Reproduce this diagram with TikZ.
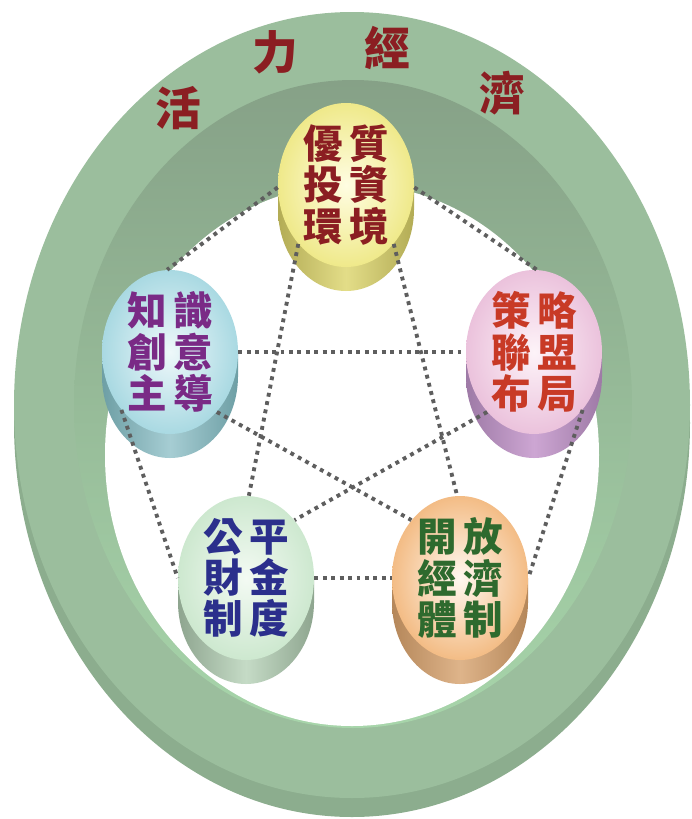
\documentclass[tikz,border=0pt]{standalone}
\usepackage{fontspec}
\newfontfamily\cjk{Noto Sans CJK TC}
\usetikzlibrary{shapes.geometric}

\definecolor{ringtop}{HTML}{9BBE9D}
\definecolor{ringside}{HTML}{8CAD8E}
\definecolor{walltop}{HTML}{86A187}
\definecolor{wallside}{HTML}{A7D5AA}
\definecolor{dotgray}{HTML}{5E5E5E}
\definecolor{maroon}{HTML}{8B1E22}
\definecolor{plum}{HTML}{7A2A86}
\definecolor{brick}{HTML}{C83A26}
\definecolor{navy}{HTML}{2B2F8C}
\definecolor{leaf}{HTML}{2E6A2E}

\definecolor{yelin}{HTML}{FFFDE2}\definecolor{yelout}{HTML}{EFE98A}
\definecolor{yelside}{HTML}{B3AC55}\definecolor{yelmid}{HTML}{E3DD88}
\definecolor{bluin}{HTML}{EEF8FA}\definecolor{bluout}{HTML}{A9D9E2}
\definecolor{bluside}{HTML}{6E9FA5}\definecolor{blumid}{HTML}{A6CDD3}
\definecolor{pnkin}{HTML}{FDF3F8}\definecolor{pnkout}{HTML}{EBC2DC}
\definecolor{pnkside}{HTML}{9E7AA6}\definecolor{pnkmid}{HTML}{CDA6D3}
\definecolor{grnin}{HTML}{F3FAF3}\definecolor{grnout}{HTML}{CDE8CF}
\definecolor{grnside}{HTML}{8EA58F}\definecolor{grnmid}{HTML}{C5DBC6}
\definecolor{orgin}{HTML}{FFF8F0}\definecolor{orgout}{HTML}{F3BC85}
\definecolor{orgside}{HTML}{B5875A}\definecolor{orgmid}{HTML}{DEB48A}

\begin{document}
\begin{tikzpicture}[x=.02cm, y=-.02cm,
    face/.style={ellipse, minimum width=2.72cm, minimum height=3.28cm, inner sep=0pt},
    words/.style={align=center, inner sep=0pt, font=\cjk\bfseries\fontsize{22.5}{23.5}\selectfont},
    link/.style={dotgray, line width=2.2pt, dash pattern=on 2.2pt off 2.6pt}]
\useasboundingbox (0,0) rectangle (692,819);

\fill[ringside] (352,423) ellipse [x radius=338, y radius=394];
\fill[ringtop] (352,405) ellipse [x radius=338, y radius=393];
\shade[top color=walltop, middle color=wallside, bottom color=wallside] (353,404) ellipse [x radius=279, y radius=324];
\fill[white] (352,455) ellipse [x radius=247, y radius=271];

\foreach \ch/\x/\y in {活/178/108, 力/275/52, 經/387/48, 濟/502/93}
{
    \node[font=\cjk\bfseries\fontsize{26}{26}\selectfont, text=maroon] (ring\x) at (\x,\y) {\ch};
}

\foreach \x/\y/\s/\m in {346/185/yelside/yelmid, 170/352/bluside/blumid, 534/352/pnkside/pnkmid, 246/578/grnside/grnmid, 460/578/orgside/orgmid}
{
    \shade[left color=\s, right color=\s, middle color=\m] (\x-68,\y) rectangle (\x+68,\y+24);
    \shade[left color=\s, right color=\s, middle color=\m] (\x,\y+24) ellipse [x radius=68, y radius=82];
}

\node[face, inner color=yelin, outer color=yelout] (yel) at (346,185) {};
\node[face, inner color=bluin, outer color=bluout] (blu) at (170,352) {};
\node[face, inner color=pnkin, outer color=pnkout] (pnk) at (534,352) {};
\node[face, inner color=grnin, outer color=grnout] (grn) at (246,578) {};
\node[face, inner color=orgin, outer color=orgout] (org) at (460,578) {};

\node[words, text=maroon] (yeltxt) at (yel) {優\,質\\投\,資\\環\,境};
\node[words, text=plum] (blutxt) at (blu) {知\,識\\創\,意\\主\,導};
\node[words, text=brick] (pnktxt) at (pnk) {策\,略\\聯\,盟\\布\,局};
\node[words, text=navy] (grntxt) at (grn) {公\,平\\財\,金\\制\,度};
\node[words, text=leaf] (orgtxt) at (org) {開\,放\\經\,濟\\體\,制};

\draw[link] (yel.182) -- (blu.92);
\draw[link] (yel.358) -- (pnk.88);
\draw[link] (blu.230) -- (grn.180);
\draw[link] (pnk.310) -- (org.0);
\draw[link] (grn.0) -- (org.180);

\draw[link] (yel.231) -- (grn.88);
\draw[link] (yel.309) -- (org.92);
\draw[link] (blu.0) -- (pnk.180);
\draw[link] (blu.308) -- (org.130);
\draw[link] (pnk.232) -- (grn.50);

\end{tikzpicture}
\end{document}
